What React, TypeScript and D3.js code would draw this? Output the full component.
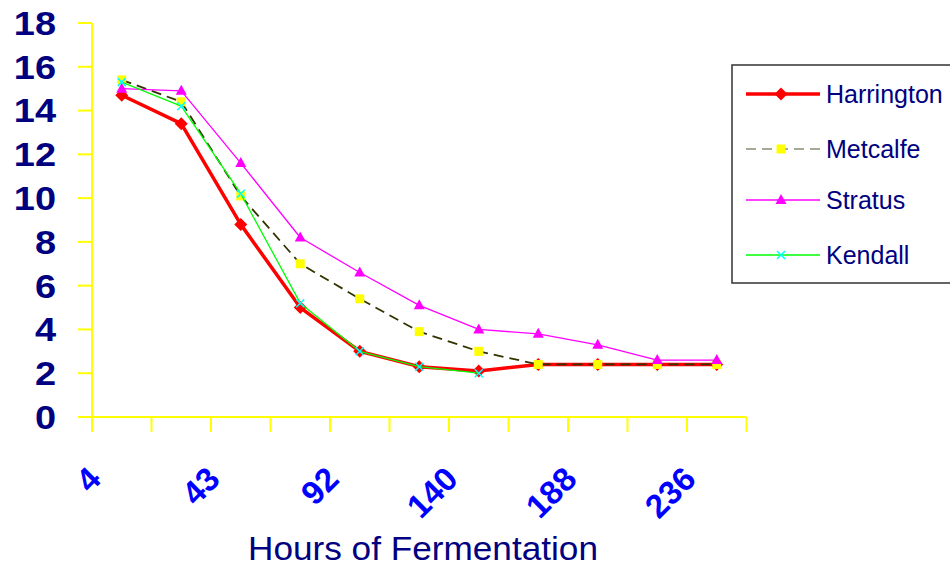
import React from "react";
import * as d3 from "d3";

// hours of fermentation (every second label is shown on the axis)
const hours = ["4", "20", "43", "68", "92", "116", "140", "164", "188", "212", "236"];
const yTicks = [0, 2, 4, 6, 8, 10, 12, 14, 16, 18];

const harrington = [14.7, 13.4, 8.8, 5.0, 3.0, 2.3, 2.1, 2.4, 2.4, 2.4, 2.4];
const metcalfe = [15.4, 14.4, 10.1, 7.0, 5.4, 3.9, 3.0, 2.4, 2.4, 2.4, 2.4];
const stratus = [15.0, 14.9, 11.6, 8.2, 6.6, 5.1, 4.0, 3.8, 3.3, 2.6, 2.6];
const kendall = [15.3, 14.2, 10.2, 5.2, 3.0, 2.3, 2.0, null, null, null, null];

const W = 950;
const H = 566;

type Series = {
  name: string;
  values: (number | null)[];
  color: string;
  width: number;
  dash?: string;
  legendColor?: string;
  marker: "diamond" | "square" | "triangle" | "x";
  markerColor: string;
};

const series: Series[] = [
  { name: "Harrington", values: harrington, color: "#ff0000", width: 3.5, marker: "diamond", markerColor: "#ff0000" },
  { name: "Metcalfe", values: metcalfe, color: "#333300", width: 1.8, dash: "10,6", legendColor: "#a8a898", marker: "square", markerColor: "#ffff00" },
  { name: "Stratus", values: stratus, color: "#ff00ff", width: 1.3, marker: "triangle", markerColor: "#ff00ff" },
  { name: "Kendall", values: kendall, color: "#00ff00", width: 1.3, marker: "x", markerColor: "#00ffff" },
];

const markerPath = (m: Series["marker"]) => {
  if (m === "diamond") return "M0,-6.5L6.5,0L0,6.5L-6.5,0Z";
  if (m === "square") return "M-4.5,-4.5H4.5V4.5H-4.5Z";
  if (m === "triangle") return "M0,-6L5.5,4L-5.5,4Z";
  return "M-4,-4L4,4M4,-4L-4,4";
};

const Marker = ({ s, x, y }: { s: Series; x: number; y: number }) =>
  s.marker === "x" ? (
    <path d={markerPath(s.marker)} transform={`translate(${x},${y})`} stroke={s.markerColor} strokeWidth={1.5} fill="none" />
  ) : (
    <path d={markerPath(s.marker)} transform={`translate(${x},${y})`} fill={s.markerColor} />
  );

export default function App() {
  const x = d3.scaleBand<string>().domain(hours).range([92, 746.5]);
  const y = d3.scaleLinear().domain([0, 18]).range([417, 23]);
  const cx = (i: number) => (x(hours[i]) as number) + x.bandwidth() / 2;

  const line = d3
    .line<number | null>()
    .defined((d) => d != null)
    .x((_, i) => cx(i))
    .y((d) => y(d as number));

  const tickXs = hours.map((h) => x(h) as number).concat([746.5]);

  return (
    <svg width={W} height={H} style={{ position: "absolute", left: 0, top: 0, background: "#fff" }} fontFamily="'Liberation Sans', Arial, sans-serif">
      {/* y axis */}
      <line x1={92} x2={92} y1={y(18)} y2={432} stroke="#ffff00" strokeWidth={2} />
      {yTicks.map((t) => (
        <g key={t}>
          <line x1={78} x2={92} y1={y(t)} y2={y(t)} stroke="#ffff00" strokeWidth={2} />
          <text
            transform={`translate(56,${y(t)}) scale(1.15,1)`}
            dy="0.36em"
            textAnchor="end"
            fontSize={33}
            fontWeight="bold"
            fill="#000080"
          >
            {t}
          </text>
        </g>
      ))}

      {/* x axis */}
      <line x1={78} x2={746.5} y1={417} y2={417} stroke="#ffff00" strokeWidth={2} />
      {tickXs.map((tx, i) => (
        <line key={i} x1={tx} x2={tx} y1={417} y2={432} stroke="#ffff00" strokeWidth={2} />
      ))}
      {hours.map((h, i) =>
        i % 2 === 0 ? (
          <text
            key={h}
            transform={`translate(${cx(i) - 19},481) rotate(-45)`}
            textAnchor="end"
            fontSize={33}
            fontWeight="bold"
            fill="#0000ff"
          >
            {h}
          </text>
        ) : null
      )}
      <text x={248} y={560} fontSize={33} fill="#000080" textLength={350} lengthAdjust="spacingAndGlyphs">
        Hours of Fermentation
      </text>

      {/* series */}
      {series.map((s) => (
        <g key={s.name}>
          <path d={line(s.values) || ""} fill="none" stroke={s.color} strokeWidth={s.width} strokeDasharray={s.dash} strokeLinejoin="round" />
          {s.values.map((v, i) => (v == null ? null : <Marker key={i} s={s} x={cx(i)} y={y(v)} />))}
        </g>
      ))}

      {/* legend */}
      <rect x={732} y={65} width={230} height={218} fill="#fff" stroke="#333" strokeWidth={1.5} />
      {series.map((s, i) => {
        const ly = [94, 149, 200, 255][i];
        return (
          <g key={s.name}>
            <line x1={746} x2={820} y1={ly} y2={ly} stroke={s.legendColor || s.color} strokeWidth={s.width} strokeDasharray={s.dash} />
            <Marker s={s} x={781} y={ly} />
            <text x={826} y={ly} dy="0.36em" fontSize={25} fill="#000080">
              {s.name}
            </text>
          </g>
        );
      })}
    </svg>
  );
}
